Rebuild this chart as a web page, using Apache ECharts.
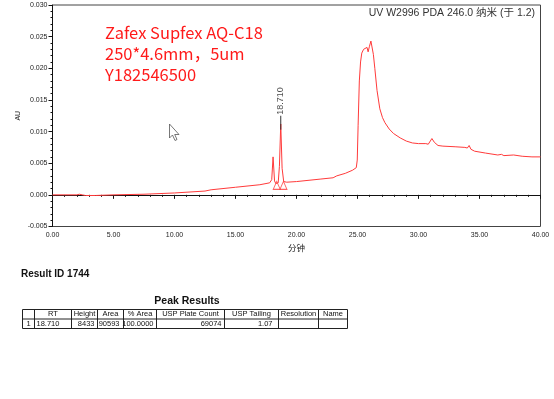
<!DOCTYPE html>
<html>
<head>
<meta charset="utf-8">
<script src="https://cdn.jsdelivr.net/npm/echarts@6/dist/echarts.min.js"></script>
<style>
html, body { margin: 0; padding: 0; background: #fff; }
#main { width: 554px; height: 399px; }
</style>
</head>
<body>
<div id="main"></div>
<script>
// chromatogram trace: [minutes, AU]
var trace = [
  [0, 0.0000], [1, 0.0000], [2.0, 0.0000], [2.2, 0.0001], [2.35, 0.0002], [2.45, 0.0000],
  [2.55, -0.0002], [2.7, -0.0001], [3.5, -0.0001], [5, 0.0000], [7.5, 0.0001], [10, 0.0003],
  [12.5, 0.0006], [13, 0.0008], [15, 0.0012], [17, 0.0016], [17.8, 0.0019], [17.97, 0.0024],
  [18.08, 0.0060], [18.2, 0.0022], [18.3, 0.0018], [18.5, 0.0019], [18.6, 0.0045],
  [18.71, 0.0112], [18.82, 0.0042], [18.95, 0.0021], [19.2, 0.0020], [20, 0.0021],
  [22, 0.0025], [23, 0.0027], [23.3, 0.0030], [24, 0.0034], [24.6, 0.0039], [24.9, 0.0043],
  [24.98, 0.0055], [25.05, 0.0110], [25.15, 0.0180], [25.25, 0.0210], [25.35, 0.0224],
  [25.5, 0.0230], [25.65, 0.0233], [25.78, 0.0233], [25.87, 0.0226], [25.97, 0.0234],
  [26.1, 0.0243], [26.18, 0.0242], [26.3, 0.0222], [26.42, 0.0200], [26.6, 0.0165],
  [26.83, 0.0136], [27.05, 0.0122], [27.25, 0.0114], [27.6, 0.0104], [27.95, 0.0097],
  [28.5, 0.0090], [29.0, 0.0085], [29.5, 0.0082], [30.0, 0.0081], [30.6, 0.0081],
  [30.8, 0.0080], [31.1, 0.0089], [31.3, 0.0083], [31.6, 0.0078], [32, 0.0077],
  [33, 0.0076], [33.8, 0.0075], [34.0, 0.0074], [34.15, 0.0078], [34.3, 0.0072],
  [34.6, 0.0069], [35.5, 0.0066], [36.5, 0.0063], [36.8, 0.0064], [37, 0.0062],
  [37.8, 0.0063], [38.5, 0.0061], [39.3, 0.0060], [40, 0.0060]
];
var peakRT = 18.710;
var peakTick = [[18.71, 0.0103], [18.71, 0.0125]];
var peakBounds = [[18.38, 0.0015], [18.93, 0.0015]];

var channel = 'UV W2996 PDA 246.0 纳米 (于 1.2)';
var noteLines = ['Zafex Supfex AQ-C18', '250*4.6mm，5um', 'Y182546500'];
var resultId = 'Result ID 1744';
var tableTitle = 'Peak Results';
var tableHead = ['', 'RT', 'Height', 'Area', '% Area', 'USP Plate Count', 'USP Tailing', 'Resolution', 'Name'];
var tableRow = ['1', '18.710', '8433', '90593', '100.0000', '69074', '1.07', '', ''];

var red = '#ff3a3a';
var tableFont = '7.5px "Liberation Sans", Arial, sans-serif';

// table layout
var colX = [22.5, 34.5, 71.5, 97.5, 123.5, 156.5, 224.5, 278.5, 318.5, 347.5];
var rowY = [309.5, 319, 328.5];
var cellAlign = ['center', 'left', 'right', 'right', 'right', 'right', 'right', 'right', 'right'];
var cellPad = [0, 2, 3, 4, 3, 3, 6, 3, 3];

function buildTable() {
  var els = [];
  els.push({
    type: 'rect', silent: true,
    shape: { x: colX[0], y: rowY[0], width: colX[colX.length - 1] - colX[0], height: rowY[2] - rowY[0] },
    style: { fill: 'none', stroke: '#222', lineWidth: 1 }
  });
  els.push({
    type: 'line', silent: true,
    shape: { x1: colX[0], y1: rowY[1], x2: colX[colX.length - 1], y2: rowY[1] },
    style: { stroke: '#222', lineWidth: 1 }
  });
  for (var i = 1; i < colX.length - 1; i++) {
    els.push({
      type: 'line', silent: true,
      shape: { x1: colX[i], y1: rowY[0], x2: colX[i], y2: rowY[2] },
      style: { stroke: '#222', lineWidth: 1 }
    });
  }
  tableHead.forEach(function (t, i) {
    els.push({
      type: 'text', silent: true,
      x: (colX[i] + colX[i + 1]) / 2, y: (rowY[0] + rowY[1]) / 2,
      style: { text: t, font: tableFont, fill: '#111', align: 'center', verticalAlign: 'middle' }
    });
  });
  tableRow.forEach(function (t, i) {
    var a = cellAlign[i];
    var x = a === 'center' ? (colX[i] + colX[i + 1]) / 2 : a === 'left' ? colX[i] + cellPad[i] : colX[i + 1] - cellPad[i];
    els.push({
      type: 'text', silent: true,
      x: x, y: (rowY[1] + rowY[2]) / 2,
      style: { text: t, font: tableFont, fill: '#111', align: a, verticalAlign: 'middle' }
    });
  });
  return els;
}

var myChart = echarts.init(document.getElementById('main'));
var graphics = [
  {
    type: 'text', silent: true, x: 105, y: 22.5,
    style: {
      text: noteLines.join('\n'), fill: '#ff1a1a', lineHeight: 21,
      font: '16.5px "Noto Sans CJK SC", "Noto Sans", sans-serif', verticalAlign: 'top'
    }
  },
  {
    // mouse pointer captured in the screenshot
    type: 'polygon', silent: true,
    shape: { points: [[169.5, 124], [169.5, 138], [172.5, 135], [175, 140.5], [177, 139.5], [174.7, 134.5], [179, 134.5]] },
    style: { fill: '#fff', stroke: '#555', lineWidth: 0.8 }
  },
  {
    type: 'text', silent: true, x: 21, y: 274,
    style: { text: resultId, font: 'bold 10px "Liberation Sans", Arial, sans-serif', fill: '#111', verticalAlign: 'middle' }
  },
  {
    type: 'text', silent: true, x: 187, y: 301.5,
    style: { text: tableTitle, font: 'bold 10.5px "Liberation Sans", Arial, sans-serif', fill: '#111', align: 'center', verticalAlign: 'middle' }
  }
].concat(buildTable());

myChart.setOption({
  animation: false,
  title: {
    text: channel,
    right: 19, top: 8, padding: 0,
    textStyle: { fontSize: 10.5, fontWeight: 'normal', color: '#333', fontFamily: '"Liberation Sans", "Noto Sans CJK SC", sans-serif' }
  },
  grid: {
    left: 52.5, right: 13.5, top: 5, bottom: 172.5,
    show: true, borderColor: '#444', borderWidth: 1
  },
  xAxis: {
    type: 'value', min: 0, max: 40, interval: 5,
    name: '分钟', nameLocation: 'middle', nameGap: 17, nameMoveOverlap: false,
    nameTextStyle: { fontSize: 8.5, color: '#222', fontFamily: '"Noto Sans CJK SC", sans-serif', verticalAlign: 'top' },
    axisLine: { show: true, lineStyle: { color: '#111', width: 1 } },
    axisTick: { show: true, length: 4, lineStyle: { color: '#111' } },
    minorTick: { show: true, splitNumber: 5, length: 2, lineStyle: { color: '#111' } },
    splitLine: { show: false },
    axisLabel: {
      margin: 5, fontSize: 7, color: '#222', fontFamily: '"Liberation Sans", Arial, sans-serif',
      formatter: function (v) { return v.toFixed(2); }
    }
  },
  yAxis: {
    type: 'value', min: -0.005, max: 0.03, interval: 0.005,
    name: 'AU', nameLocation: 'middle', nameGap: 31, nameMoveOverlap: false,
    nameTextStyle: { fontSize: 7, color: '#222', fontFamily: '"Liberation Sans", Arial, sans-serif' },
    axisLine: { show: true, lineStyle: { color: '#111', width: 1 } },
    axisTick: { show: true, length: 4, lineStyle: { color: '#111' } },
    minorTick: { show: true, splitNumber: 5, length: 2, lineStyle: { color: '#111' } },
    splitLine: { show: false },
    axisLabel: {
      margin: 5, fontSize: 7, color: '#222', fontFamily: '"Liberation Sans", Arial, sans-serif',
      formatter: function (v) { return v.toFixed(3); }
    }
  },
  series: [
    {
      type: 'line', data: trace, showSymbol: false, silent: true,
      lineStyle: { color: red, width: 1 }, z: 3
    },
    {
      type: 'line', data: peakTick, showSymbol: false, silent: true,
      lineStyle: { color: '#333', width: 1 }, z: 4
    },
    {
      type: 'scatter', data: [peakTick[1]], symbolSize: 0.1, silent: true,
      label: {
        show: true, formatter: peakRT.toFixed(3), position: 'top', distance: 1,
        rotate: 90, align: 'left', verticalAlign: 'middle',
        fontSize: 9, color: '#222', fontFamily: '"Liberation Sans", Arial, sans-serif'
      }
    },
    {
      type: 'scatter', data: peakBounds, symbol: 'triangle', symbolSize: [7, 8], silent: true,
      itemStyle: { color: 'rgba(255,255,255,0)', borderColor: red, borderWidth: 1 }, z: 5
    }
  ],
  graphic: graphics
});
</script>
</body>
</html>
